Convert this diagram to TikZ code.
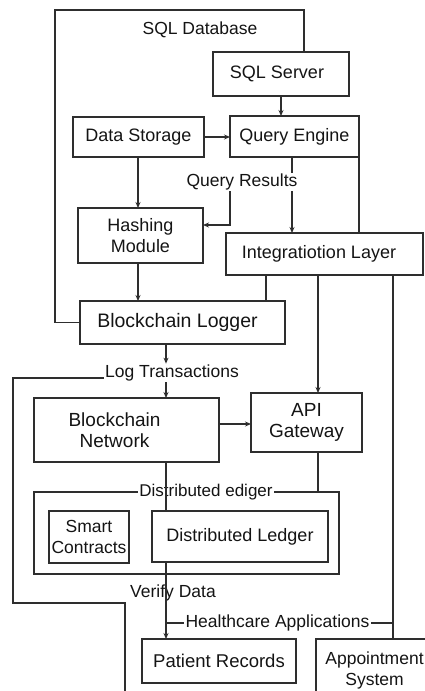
\documentclass[tikz,border=0pt]{standalone}
\usepackage{fontspec}
\setmainfont{Liberation Sans}
\usetikzlibrary{arrows.meta,calc}
\definecolor{linec}{HTML}{2E2E2E}
\definecolor{txtc}{HTML}{141414}
\newcommand\fsz[1]{\fontsize{#1}{21}\selectfont}
\begin{document}
\begin{tikzpicture}[x=1pt,y=-1pt]
\tikzset{
  box/.style={draw=linec, line width=1.1pt, inner sep=0pt, outer sep=0pt, align=center, font=\fsz{18}, text=txtc},
  lbl/.style={fill=white, inner xsep=1.5pt, inner ysep=1pt, font=\fsz{17.5}, text=txtc},
  conn/.style={draw=linec, line width=1.1pt},
  arr/.style={conn, -{Stealth[length=6pt,width=5pt]}},
}
\useasboundingbox (0,0) rectangle (425,691);
\clip (0,0) rectangle (425,691);
% boxes
\node[box, minimum width=136pt, minimum height=44pt] (sqlserver) at (281,74) {SQL Server\hspace*{8pt}};
\node[box, minimum width=131pt, minimum height=40pt] (datastorage) at (138.5,137) {Data Storage};
\node[box, minimum width=129pt, minimum height=41pt] (queryengine) at (294.5,136.5) {Query Engine};
\node[box, minimum width=125pt, minimum height=55pt] (hashing) at (140.5,235.5) {Hashing\\Module};
\node[box, minimum width=197pt, minimum height=42pt] (integration) at (324.5,254) {Integratiotion Layer\hspace*{11pt}};
\node[box, minimum width=205pt, minimum height=43pt, font=\fsz{19.5}] (logger) at (182.5,322.5) {Blockchain Logger\hspace*{10pt}};
\node[box, minimum width=185pt, minimum height=64pt, font=\fsz{19}] (bnetwork) at (126.5,430) {Blockchain\hspace*{24pt}\\Network\hspace*{24pt}};
\node[box, minimum width=111pt, minimum height=59pt, font=\fsz{19}] (api) at (306.5,422.5) {API\\Gateway};
\node[box, minimum width=305pt, minimum height=82pt] (distbox) at (186.5,533) {};
\node[box, minimum width=80pt, minimum height=52pt, font=\fsz{17.5}] (smart) at (89,537) {Smart\\Contracts};
\node[box, minimum width=176pt, minimum height=51pt] (dledger) at (240,536.5) {Distributed Ledger};
\node[box, minimum width=154pt, minimum height=44pt, font=\fsz{18.5}] (patient) at (219,661) {Patient Records};
\node[box, minimum width=124pt, minimum height=62pt, font=\fsz{17.5}] (appointment) at (378,670) {Appointment\hspace*{7pt}\\System\hspace*{7pt}};
% connectors behind labels
\coordinate (qeo) at ([xshift=-2.5pt]queryengine.south);
\draw[arr] (qeo) -- (qeo |- integration.north);
% labels
\node[lbl] (sqldb) at (200,30) {SQL Database};
\node[lbl] (qres) at (242,182) {Query Results};
\node[lbl] (logtx) at (172,373) {Log Transactions};
\node[lbl, font=\fsz{17}, inner xsep=1pt] (distlbl) at (206,492) {Distributed ediger};
\node[lbl, fill=none] (verify) at (173,593) {Verify Data};
\node[lbl] (happ) at (277.5,623) {Healthcare Applications};
% SQL database frame
\coordinate (f1) at (55,10);
\coordinate (f2) at (304,10);
\draw[conn] (logger.west) -| (f1) -- (f2) -- (f2 |- sqlserver.north);
% connectors
\draw[arr] (sqlserver.south) -- (sqlserver.south |- queryengine.north);
\draw[arr] (datastorage.east) -- (datastorage.east -| queryengine.west);
\draw[arr] ([xshift=-0.5pt]datastorage.south) -- ([xshift=-0.5pt]datastorage.south |- hashing.north);
\coordinate (qr) at ([xshift=-12pt]qres.south);
\draw[arr] (qr) |- ([yshift=10.5pt]hashing.east);
\draw[conn] (queryengine.south east) -- (queryengine.south east |- integration.north);
\draw[arr] ([xshift=-2.5pt]hashing.south) -- ([xshift=-2.5pt]hashing.south |- logger.north);
\coordinate (i1) at ([xshift=-58.5pt]integration.south);
\coordinate (i2) at ([xshift=-6.5pt]integration.south);
\coordinate (i3) at ([xshift=68.5pt]integration.south);
\draw[conn] (i1) -- (i1 |- logger.north);
\draw[arr] (i2) -- (i2 |- api.north);
\draw[conn] (i3) -- (i3 |- appointment.north);
\coordinate (lg) at ([xshift=-16.5pt]logger.south);
\draw[arr] (lg) -- (lg |- logtx.north);
\draw[arr] (lg |- logtx.south) -- (lg |- bnetwork.north);
\coordinate (l1) at (13,378);
\coordinate (l2) at (13,603);
\coordinate (l3) at (125,603);
\coordinate (l4) at (125,700);
\draw[conn] (logtx.west |- l1) -- (l1) -- (l2) -- (l3) -- (l4);
\draw[arr] ([yshift=6pt]bnetwork.east) -- ([yshift=6pt]bnetwork.east -| api.west);
\coordinate (ag) at ([xshift=11.5pt]api.south);
\draw[conn] (ag) -- (ag |- distbox.north);
\coordinate (bn) at ([xshift=39.5pt]bnetwork.south);
\draw[conn] (bn) -- (bn |- dledger.north);
\coordinate (dl) at ([xshift=-74pt]dledger.south);
\draw[arr] (dl) -- (dl |- patient.north);
\draw[conn] (dl |- happ.west) -- (happ.west);
\draw[conn] (happ.east) -- (happ.east -| i3);
\end{tikzpicture}
\end{document}
